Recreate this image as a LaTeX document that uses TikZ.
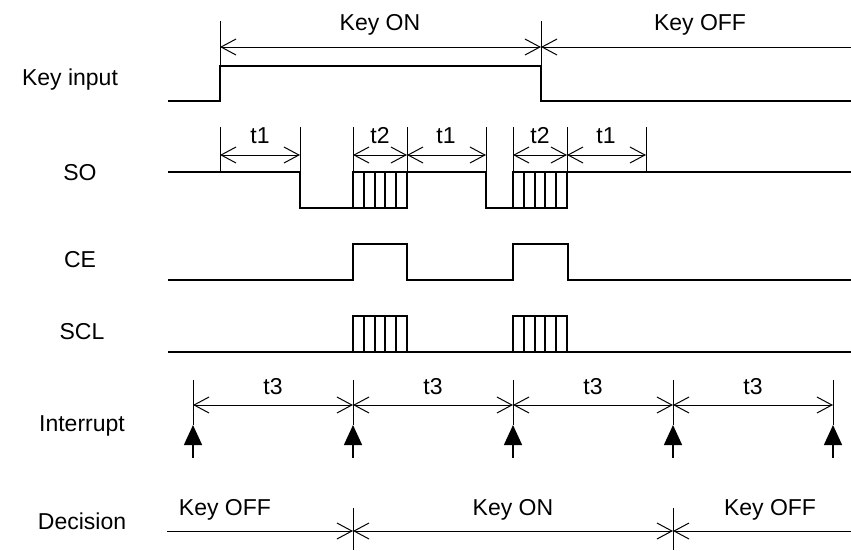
\documentclass[tikz,border=0pt]{standalone}
\usepackage{fontspec}
\setmainfont{Liberation Sans}
\usetikzlibrary{arrows.meta}
\begin{document}
\begin{tikzpicture}[x=1pt,y=-1pt,
  every node/.style={font=\fontsize{23}{27}\selectfont, inner sep=0pt},
  sig/.style={line width=2pt, line join=miter},
  hatch/.style={line width=2pt},
  tick/.style={line width=1pt},
  barb/.tip={Straight Barb[length=15pt,width=16pt]},
  dim/.style={line width=1pt, barb-barb},
  dimL/.style={line width=1pt, barb-},
  irq/.style={line width=1.5pt, -{Triangle[length=20pt,width=18pt]}}]
\useasboundingbox (0,0) rectangle (851,550);
% labels
\node (lkey) at (70,80) {Key input};
\node (lso)  at (80,173) {SO};
\node (lce)  at (80,260) {CE};
\node (lscl) at (82,332) {SCL};
\node (lint) at (82,426) {Interrupt};
\node (ldec) at (82,521) {Decision};
% ---------- Key input ----------
\draw[sig] (168,101) -- (220,101) -- (220,66) -- (541,66) -- (541,101) -- (851,101);
\coordinate (k1) at (220,47);
\coordinate (k2) at (541,47);
\coordinate (k3) at (851,47);
\draw[tick] (220,21) -- (220,66);
\draw[tick] (541,21) -- (541,101);
\draw[dim] (k1) -- (k2);
\draw[dimL] (k2) -- (k3);
\node (kon)  at (380,25) {Key ON};
\node (koff) at (700,25) {Key OFF};
% ---------- SO ----------
\draw[sig] (168,172) -- (300,172) -- (300,208) -- (353,208) -- (353,172) -- (486,172)
  -- (486,208) -- (513,208) -- (513,172) -- (851,172);
\foreach \a in {353,513}{
  \draw[sig] (\a,172) rectangle (\a+54,208);
  \foreach \i in {1,2,3,4} \draw[hatch] (\a+10.8*\i,172) -- (\a+10.8*\i,208);
}
\foreach \x in {220,300,353,407,486,513,567,646} \draw[tick] (\x,127) -- (\x,172);
\coordinate (s1) at (220,155); \coordinate (s2) at (300,155);
\coordinate (s3) at (353,155); \coordinate (s4) at (407,155);
\coordinate (s5) at (486,155); \coordinate (s6) at (513,155);
\coordinate (s7) at (567,155); \coordinate (s8) at (646,155);
\draw[dim] (s1) -- (s2);
\draw[dim] (s3) -- (s4);
\draw[dim] (s4) -- (s5);
\draw[dim] (s6) -- (s7);
\draw[dim] (s7) -- (s8);
\node (ta) at (260,136) {t1};
\node (tb) at (380,136) {t2};
\node (tc) at (446,136) {t1};
\node (td) at (540,136) {t2};
\node (te) at (606,136) {t1};
% ---------- CE ----------
\draw[sig] (168,280) -- (353,280) -- (353,244) -- (407,244) -- (407,280) -- (513,280)
  -- (513,244) -- (568,244) -- (568,280) -- (851,280);
% ---------- SCL ----------
\draw[sig] (168,352) -- (851,352);
\foreach \a in {353,513}{
  \draw[sig] (\a,316) rectangle (\a+54,352);
  \foreach \i in {1,2,3,4} \draw[hatch] (\a+10.8*\i,316) -- (\a+10.8*\i,352);
}
% ---------- Interrupt ----------
\foreach \x [count=\n] in {193,353,513,673,833}{
  \coordinate (i\n) at (\x,405);
  \draw[tick] (\x,380) -- (\x,425);
  \draw[irq] (\x,458) -- (\x,425);
}
\draw[dim] (i1) -- (i2);
\draw[dim] (i2) -- (i3);
\draw[dim] (i3) -- (i4);
\draw[dim] (i4) -- (i5);
\foreach \x in {273,433,593,753} \node at (\x,387) {t3};
% ---------- Decision ----------
\coordinate (d0) at (167,531);
\coordinate (d1) at (353,531);
\coordinate (d2) at (673,531);
\coordinate (d3) at (851,531);
\draw[tick] (353,508) -- (353,550);
\draw[tick] (673,508) -- (673,550);
\draw[line width=1pt, -barb] (d0) -- (d1);
\draw[dim] (d1) -- (d2);
\draw[dimL] (d2) -- (d3);
\node (doff1) at (225,510) {Key OFF};
\node (don)   at (513,510) {Key ON};
\node (doff2) at (770,510) {Key OFF};
\end{tikzpicture}
\end{document}
